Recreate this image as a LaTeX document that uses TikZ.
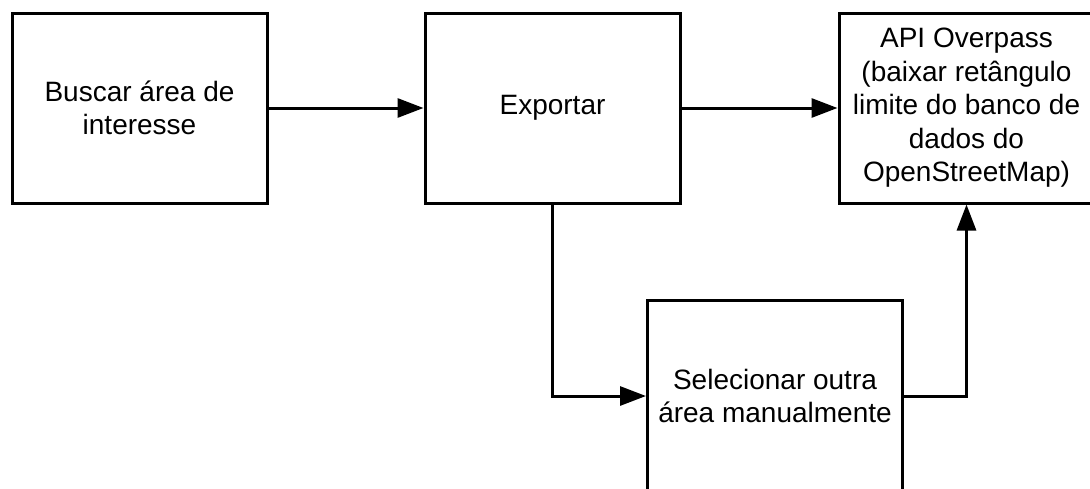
\documentclass[tikz,border=0pt]{standalone}
\usepackage{fontspec}
\setmainfont{Liberation Sans}
\usetikzlibrary{arrows.meta}
\tikzset{
  box/.style={draw=black, line width=3pt, minimum width=255pt, minimum height=190pt,
    align=center, inner sep=0pt, font=\fontsize{28pt}{33.5pt}\selectfont},
  conn/.style={draw=black, line width=3pt, -{Triangle[length=26pt,width=19pt]}}
}
\begin{document}
\begin{tikzpicture}[x=1pt,y=-1pt]
\useasboundingbox (0,0) rectangle (1090,488);
\clip (0,0) rectangle (1090,488);
\node[box] (b1) at (139.5,108) {Buscar área de\\interesse};
\node[box] (b2) at (552.5,108) {Exportar};
\node[box] (b3) at (966.5,108) {API Overpass\\(baixar retângulo\\limite do banco de\\dados do\\OpenStreetMap)};
\node[box, minimum height=192pt] (b4) at (775,396) {Selecionar outra\\área manualmente};
\draw[conn] (b1.east) -- (b2.west);
\draw[conn] (b2.east) -- (b3.west);
\draw[conn] (b2.south) |- (b4.west);
\draw[conn] (b4.east) -| (b3.south);
\end{tikzpicture}
\end{document}
